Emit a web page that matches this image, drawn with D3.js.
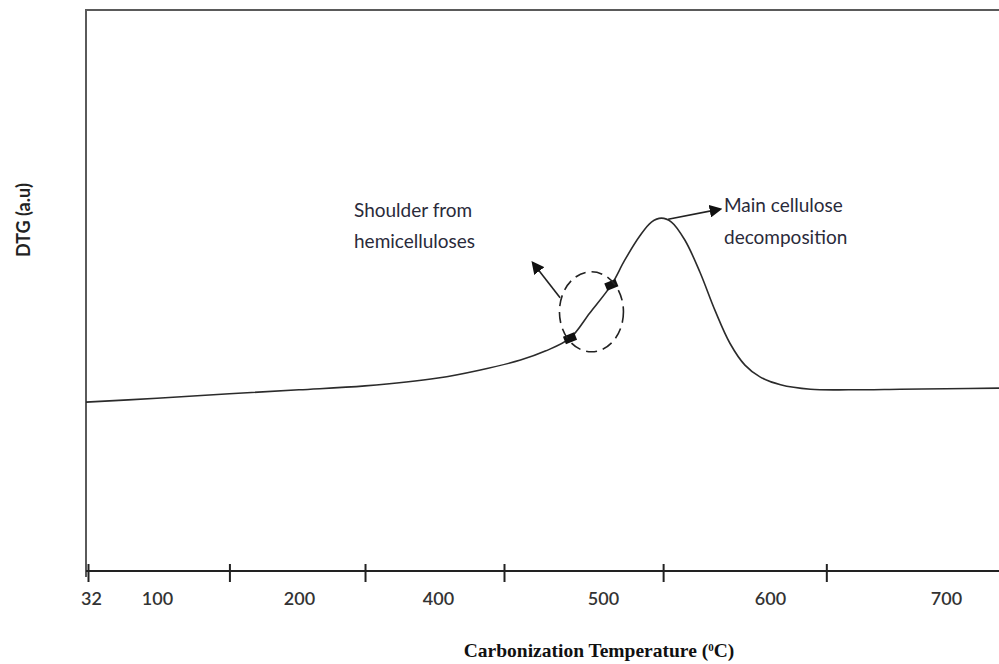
<!DOCTYPE html>
<html lang="en">

<head>
    <meta charset="UTF-8">
    <title>DTG curve</title>
    <script src="https://cdn.jsdelivr.net/npm/d3@7"></script>

    <style type="text/css">
        body {
            margin: 0;
            background: #fff;
        }

        .frame {
            stroke: #5a5a5a;
            stroke-width: 2;
            fill: none;
        }

        .dtgLine {
            fill: none;
            stroke: #2b2b2b;
            stroke-width: 1.6;
        }

        .note {
            font-family: Lato, "Open Sans", sans-serif;
            font-size: 19px;
            fill: #2a2a3a;
        }

        .tickLabel {
            font-family: Lato, "Open Sans", sans-serif;
            font-size: 18px;
            font-weight: 600;
            fill: #333;
        }
    </style>

</head>

<body>

    <svg id="chart"></svg>

    <script>

        // Size of the SVG
        var width = 999;
        var height = 664;

        // x axis labels (the axis is not evenly spaced in the figure)
        var tickLabels = [32, 100, 200, 400, 500, 600, 700];
        // temperatures where the small tick marks sit
        var tickMarks = [29, 151, 295, 440, 536, 632];

        // DTG curve, temperature (°C) and DTG (a.u.)
        var temps = [27, 100, 151, 200, 295, 400, 425, 450, 465, 480, 492, 505, 513, 522, 529, 535,
                     541, 549, 558, 567, 576, 585, 594, 606, 623, 645, 674, 700, 730];
        var dtg = [30.1, 30.8, 31.6, 32.3, 33.0, 34.4, 35.8, 37.6, 39.2, 41.5, 46.0, 51.0, 55.4, 59.7, 62.2, 62.9,
                   62.2, 59.0, 53.3, 46.5, 40.6, 36.7, 34.6, 33.2, 32.4, 32.3, 32.4, 32.5, 32.6];

        // shoulder markers
        var shoulderTemps = [480, 505];
        var shoulderDtg = [41.5, 51.0];

        var svg = d3.select("#chart")
            .attr("width", width)
            .attr("height", height);

        var plotLeft = 86, plotRight = 999, plotTop = 10, plotBottom = 571;

        // piecewise scale so the labels land where the figure puts them
        var x = d3.scaleLinear()
            .domain([27, 32, 100, 200, 400, 500, 600, 700, 730])
            .range([plotLeft, 91, 157, 299, 438, 603, 770, 946, plotRight]);

        var y = d3.scaleLinear()
            .domain([0, 100])
            .range([plotBottom, plotTop]);

        // frame: top and left lines
        svg.append("path")
            .attr("class", "frame")
            .attr("d", "M" + plotRight + "," + plotTop + "H" + plotLeft + "V" + (plotBottom + 6));

        // axis line + labels
        var labelAxis = d3.axisBottom(x)
            .tickValues(tickLabels)
            .tickSize(0)
            .tickPadding(21)
            .tickFormat(d3.format("d"));

        var gx = svg.append("g")
            .attr("transform", "translate(0," + plotBottom + ")")
            .call(labelAxis);
        gx.select(".domain")
            .attr("stroke", "#222")
            .attr("stroke-width", 2)
            .attr("d", "M" + plotLeft + ",0H" + plotRight);
        gx.selectAll("text")
            .attr("class", "tickLabel")
            .attr("font-size", null)
            .attr("font-family", null);

        // tick marks crossing the axis line
        var markAxis = d3.axisBottom(x)
            .tickValues(tickMarks)
            .tickSize(18)
            .tickFormat("");

        var gm = svg.append("g")
            .attr("transform", "translate(0," + (plotBottom - 7) + ")")
            .call(markAxis);
        gm.select(".domain").remove();
        gm.selectAll(".tick line")
            .attr("stroke", "#222")
            .attr("stroke-width", 2);

        // the curve
        var line = d3.line()
            .x(function (d) { return x(d[0]); })
            .y(function (d) { return y(d[1]); })
            .curve(d3.curveCatmullRom.alpha(0.5));

        svg.append("path")
            .datum(d3.zip(temps, dtg))
            .attr("class", "dtgLine")
            .attr("d", line);

        // markers at the shoulder
        svg.selectAll("rect.marker")
            .data(d3.zip(shoulderTemps, shoulderDtg))
            .enter()
            .append("rect")
            .attr("class", "marker")
            .attr("x", -6)
            .attr("y", -4)
            .attr("width", 12)
            .attr("height", 8)
            .attr("fill", "#111")
            .attr("transform", function (d) {
                return "translate(" + x(d[0]) + "," + y(d[1]) + ") rotate(-22)";
            });

        // dashed ring round the shoulder
        svg.append("ellipse")
            .attr("cx", x(493))
            .attr("cy", y(46.2))
            .attr("rx", 32)
            .attr("ry", 40)
            .attr("fill", "none")
            .attr("stroke", "#222")
            .attr("stroke-width", 1.6)
            .attr("stroke-dasharray", "11,6");

        // arrows
        svg.append("defs").append("marker")
            .attr("id", "head")
            .attr("viewBox", "0 0 10 10")
            .attr("refX", 8)
            .attr("refY", 5)
            .attr("markerWidth", 8)
            .attr("markerHeight", 8)
            .attr("orient", "auto")
            .append("path")
            .attr("d", "M0,0L10,5L0,10Z")
            .attr("fill", "#111");

        var arrows = [
            {from: [474, 48.7], to: [457.6, 54.9]},
            {from: [539, 62.7], to: [570, 64.5]}
        ];

        svg.selectAll("line.arrow")
            .data(arrows)
            .enter()
            .append("line")
            .attr("class", "arrow")
            .attr("x1", function (d) { return x(d.from[0]); })
            .attr("y1", function (d) { return y(d.from[1]); })
            .attr("x2", function (d) { return x(d.to[0]); })
            .attr("y2", function (d) { return y(d.to[1]); })
            .attr("stroke", "#222")
            .attr("stroke-width", 1.6)
            .attr("marker-end", "url(#head)");

        // annotation texts
        var notes = [
            {x: 354, y: 217, text: "Shoulder from"},
            {x: 354, y: 248, text: "hemicelluloses"},
            {x: 724, y: 212, text: "Main cellulose"},
            {x: 724, y: 244, text: "decomposition"}
        ];

        svg.selectAll("text.note")
            .data(notes)
            .enter()
            .append("text")
            .attr("class", "note")
            .attr("x", function (d) { return d.x; })
            .attr("y", function (d) { return d.y; })
            .text(function (d) { return d.text; });

        // axis titles
        var xTitle = svg.append("text")
            .attr("x", 599)
            .attr("y", 657)
            .attr("text-anchor", "middle")
            .attr("font-family", "'Liberation Serif', 'Times New Roman', serif")
            .attr("font-weight", "bold")
            .attr("font-size", 19.5)
            .attr("fill", "#111");
        xTitle.append("tspan").text("Carbonization Temperature (");
        xTitle.append("tspan")
            .attr("baseline-shift", "super")
            .attr("font-size", 11)
            .text("0");
        xTitle.append("tspan").text("C)");

        svg.append("text")
            .attr("transform", "translate(30,220) rotate(-90)")
            .attr("text-anchor", "middle")
            .attr("font-family", "Lato, 'Open Sans', sans-serif")
            .attr("font-weight", "bold")
            .attr("font-size", 18)
            .attr("fill", "#222")
            .text("DTG (a.u)");

    </script>

</body>

</html>
